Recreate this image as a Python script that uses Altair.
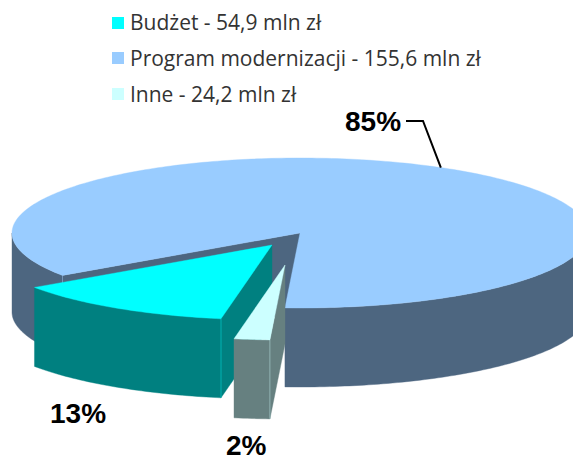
import math
import altair as alt
import pandas as pd

# values
labels = ["Inne", "Budżet", "Program modernizacji"]
shares = [2, 12.6, 85.4]
amounts = ["24,2", "54,9", "155,6"]
top_colors = ["#CCFFFF", "#00FFFF", "#99CCFF"]
side_colors = ["#668080", "#008080", "#4D6680"]
explode_dx = [-15, -28, 0]
explode_dy = [32, 12, 0]

legend_order = [1, 2, 0]
pct_text = ["85%", "13%", "2%"]
pct_x = [345, 50, 226]
pct_y = [131, 423, 455]

CX, CY, RX, RY, DEPTH = 300, 233, 288, 75, 79
START = 93
X0, Y0, W, H = 8, 8, 565, 449

x_scale = alt.Scale(domain=[X0, X0 + W], range=[0, W], nice=False, zero=False)
y_scale = alt.Scale(domain=[Y0, Y0 + H], range=[0, H], nice=False, zero=False)
X = lambda: alt.X("x:Q", scale=x_scale, axis=None)
Y = lambda: alt.Y("y:Q", scale=y_scale, axis=None)


def rim(cx, cy, a0, a1, dz=0):
    n = max(2, int(abs(a1 - a0)) + 1)
    pts = []
    for k in range(n + 1):
        t = math.radians(a0 + (a1 - a0) * k / n)
        pts.append((cx + RX * math.cos(t), cy + RY * math.sin(t) + dz))
    return pts


def poly(pts, color):
    df = pd.DataFrame({"x": [p[0] for p in pts], "y": [p[1] for p in pts], "i": range(len(pts))})
    return alt.Chart(df).mark_line(
        fill=color, stroke=color, strokeWidth=0.4, clip=True, interpolate="linear-closed"
    ).encode(x=X(), y=Y(), order=alt.Order("i:Q"))


def seam(x, y, color):
    df = pd.DataFrame({"x": [x, x], "y": [y, y + DEPTH], "i": [0, 1]})
    return alt.Chart(df).mark_line(stroke=color, strokeWidth=1, opacity=0.4, clip=True).encode(
        x=X(), y=Y(), order=alt.Order("i:Q")
    )


# slice angles follow from the shares
slices = []
a = START
for i in range(len(shares)):
    slices.append((i, a, a + shares[i] * 3.6))
    a += shares[i] * 3.6

layers = []
big_mid = None
# painted back to front: the largest slice first, the most exploded last
for i, a0, a1 in reversed(slices):
    cx, cy = CX + explode_dx[i], CY + explode_dy[i]
    p = rim(cx, cy, a0, a0)[0]
    layers.append(poly([(cx, cy), p, (p[0], p[1] + DEPTH), (cx, cy + DEPTH)], side_colors[i]))
    for lo, hi in [(0, 180), (360, 540)]:
        s, e = max(a0, lo), min(a1, hi)
        if e > s:
            layers.append(poly(rim(cx, cy, s, e) + rim(cx, cy, e, s, DEPTH), side_colors[i]))
    layers.append(seam(p[0], p[1], top_colors[i]))
    layers.append(poly([(cx, cy)] + rim(cx, cy, a0, a1), top_colors[i]))
    if i == 2:
        big_mid = rim(cx, cy, (a0 + a1) / 2, (a0 + a1) / 2)[0]

# leader line of the largest slice
leader = pd.DataFrame({"x": [406, 423, big_mid[0]], "y": [121, 121, big_mid[1]], "i": [0, 1, 2]})
layers.append(
    alt.Chart(leader).mark_line(color="black", strokeWidth=2).encode(x=X(), y=Y(), order=alt.Order("i:Q"))
)

# percentage labels
pct = pd.DataFrame({"x": pct_x, "y": pct_y, "t": pct_text})
layers.append(
    alt.Chart(pct).mark_text(
        font="Liberation Sans", fontWeight="bold", fontSize=28, align="left", baseline="alphabetic", color="black"
    ).encode(x=X(), y=Y(), text="t:N")
)

# legend
leg_rows = []
for k, idx in enumerate(legend_order):
    leg_rows.append({
        "x": 118, "y": 23 + 35 * k + (1 if k == 2 else 0),
        "tx": 130, "ty": 30 + 36 * k,
        "t": f"{labels[idx]} - {amounts[idx]} mln zł", "c": top_colors[idx],
    })
leg = pd.DataFrame(leg_rows)
layers.append(
    alt.Chart(leg).mark_point(shape="square", filled=True, size=144, opacity=1).encode(
        x=X(), y=Y(), color=alt.Color("c:N", scale=None)
    )
)
layers.append(
    alt.Chart(leg).mark_text(
        font="Open Sans", fontSize=21, align="left", baseline="alphabetic", color="#333333"
    ).encode(x=alt.X("tx:Q", scale=x_scale, axis=None), y=alt.Y("ty:Q", scale=y_scale, axis=None), text="t:N")
)

chart = alt.layer(*layers).properties(
    width=W, height=H, padding=0, background="white",
).configure_view(stroke=None)

chart.save("out.html", embed_options={"renderer": "svg", "actions": False})
